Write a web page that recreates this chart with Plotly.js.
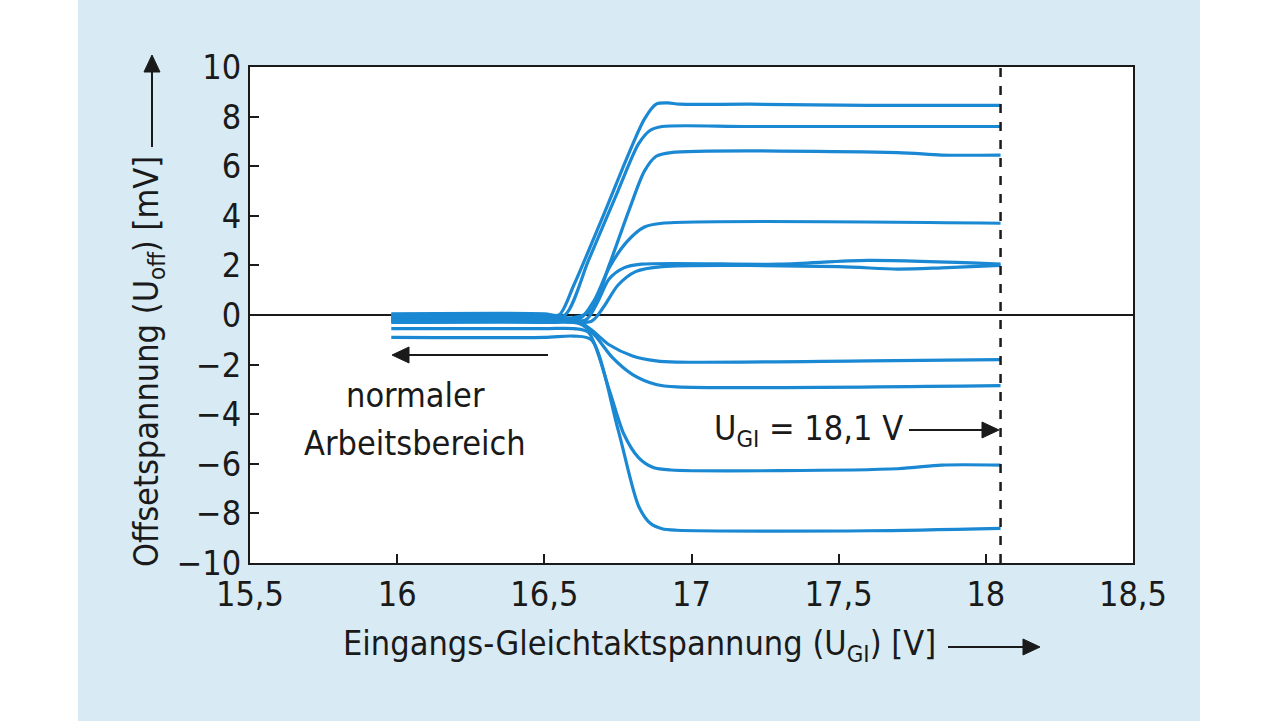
<!DOCTYPE html>
<html>
<head>
<meta charset="utf-8">
<script src="https://cdn.plot.ly/plotly-3.0.1.min.js"></script>
<style>
  html, body { margin: 0; padding: 0; background: #ffffff; }
  #chart { position: absolute; left: 78px; top: 0; width: 1122px; height: 721px; }
</style>
</head>
<body>
<div id="chart"></div>
<script>
// Categories / tick labels
const xTickVals = [15.5, 16, 16.5, 17, 17.5, 18, 18.5];
const xTickText = ['15,5', '16', '16,5', '17', '17,5', '18', '18,5'];
const yTickVals = [-10, -8, -6, -4, -2, 0, 2, 4, 6, 8, 10];
const yTickText = ['\u221210', '\u22128', '\u22126', '\u22124', '\u22122', '0', '2', '4', '6', '8', '10'];

// Series (input common-mode voltage [V] vs offset voltage [mV])
const xA = [15.98, 16.5, 16.55, 16.6, 16.7, 16.79, 16.84, 16.88, 16.92, 16.96, 17.2, 17.6, 18.05];
const yA = [0.05, 0.05, 0.0, 1.2, 4.0, 6.6, 7.9, 8.5, 8.55, 8.5, 8.5, 8.45, 8.45];
const xB = [15.98, 16.5, 16.57, 16.65, 16.75, 16.82, 16.86, 16.9, 17.2, 18.05];
const yB = [0.0, 0.0, 0.0, 2.2, 5.0, 6.9, 7.45, 7.6, 7.6, 7.6];
const xC = [15.98, 16.5, 16.6, 16.66, 16.72, 16.79, 16.84, 16.88, 16.93, 17.7, 17.85, 18.05];
const yC = [-0.05, -0.05, -0.1, 0.2, 2.0, 4.3, 5.8, 6.4, 6.55, 6.55, 6.45, 6.45];
const xD = [15.98, 16.5, 16.62, 16.67, 16.72, 16.78, 16.84, 16.9, 18.05];
const yD = [-0.1, -0.1, -0.15, 0.6, 1.9, 2.95, 3.55, 3.7, 3.7];
const xE = [15.98, 16.5, 16.64, 16.68, 16.72, 16.77, 16.83, 17.3, 17.6, 18.05];
const yE = [-0.15, -0.15, -0.2, 0.5, 1.45, 1.9, 2.05, 2.05, 2.2, 2.05];
const xF = [15.98, 16.5, 16.66, 16.7, 16.75, 16.81, 16.9, 17.5, 17.7, 17.85, 18.05];
const yF = [-0.2, -0.2, -0.25, 0.3, 1.2, 1.75, 1.95, 1.95, 1.85, 1.9, 2.0];
const xG = [15.98, 16.5, 16.62, 16.66, 16.72, 16.8, 16.88, 16.95, 17.6, 18.05];
const yG = [-0.25, -0.25, -0.3, -0.6, -1.2, -1.65, -1.85, -1.9, -1.85, -1.8];
const xH = [15.98, 16.5, 16.62, 16.67, 16.73, 16.8, 16.88, 16.95, 18.05];
const yH = [-0.3, -0.3, -0.35, -0.8, -1.7, -2.4, -2.8, -2.9, -2.85];
const xI = [15.98, 16.5, 16.6, 16.65, 16.72, 16.77, 16.82, 16.87, 16.93, 17.7, 17.85, 18.05];
const yI = [-0.55, -0.55, -0.55, -0.7, -3.0, -4.8, -5.75, -6.15, -6.25, -6.2, -6.05, -6.05];
const xJ = [15.98, 16.5, 16.6, 16.66, 16.75, 16.82, 16.86, 16.9, 16.95, 17.6, 18.05];
const yJ = [-0.9, -0.9, -0.85, -1.0, -4.6, -7.7, -8.4, -8.62, -8.68, -8.7, -8.6];

const limitV = 18.05;   // dashed line U_GI = 18,1 V
const yRange = [-10, 10];
const xRange = [15.5, 18.5];

const seriesX = [xA, xB, xC, xD, xE, xF, xG, xH, xI, xJ];
const seriesY = [yA, yB, yC, yD, yE, yF, yG, yH, yI, yJ];

const FONT = '"DejaVu Sans Condensed", "Liberation Sans Narrow", "Roboto", sans-serif';
const FS = 34;
const LINE_COLOR = '#1a88d2';
const INK = '#1a1a1a';

const traces = seriesX.map((xs, i) => ({
  type: 'scatter', mode: 'lines', x: xs, y: seriesY[i],
  line: { color: LINE_COLOR, width: 3.2, shape: 'spline', smoothing: 0.8 },
  hoverinfo: 'skip', showlegend: false
}));

// paper coordinate helpers (plot area: left 250, top 67, width 883, height 496 in page px)
const px = p => (p - 250) / 883;
const py = p => (563 - p) / 496;

const txt = (x, y, text, extra) => Object.assign({
  xref: 'paper', yref: 'paper', x: px(x), y: py(y), text: text, showarrow: false,
  xanchor: 'center', yanchor: 'middle', font: { family: FONT, size: FS, color: INK }
}, extra || {});

// arrow as shapes: shaft + filled triangular head (tip at x1,y1 in page px)
const arrowShapes = (x0, y0, x1, y1) => {
  const L = 17, W = 8;
  const dx = x1 - x0, dy = y1 - y0, len = Math.hypot(dx, dy);
  const ux = dx / len, uy = dy / len;
  const bx = x1 - ux * L, by = y1 - uy * L;
  const nx = -uy, ny = ux;
  const p = (x, y) => px(x).toFixed(5) + ',' + py(y).toFixed(5);
  return [
    { type: 'line', xref: 'paper', yref: 'paper', x0: px(x0), y0: py(y0), x1: px(bx), y1: py(by),
      line: { color: INK, width: 2 } },
    { type: 'path', xref: 'paper', yref: 'paper',
      path: 'M' + p(x1, y1) + ' L' + p(bx + nx * W, by + ny * W) + ' L' + p(bx - nx * W, by - ny * W) + ' Z',
      fillcolor: INK, line: { color: INK, width: 1 } }
  ];
};

const layout = {
  width: 1122, height: 721,
  margin: { l: 172, r: 67, t: 67, b: 158 },
  paper_bgcolor: '#d8eaf4',
  plot_bgcolor: '#ffffff',
  font: { family: FONT, size: FS, color: INK },
  showlegend: false,
  xaxis: {
    range: xRange, tickmode: 'array', tickvals: xTickVals, ticktext: xTickText,
    ticks: 'inside', ticklen: 9, tickwidth: 2, tickcolor: INK,
    showline: true, linecolor: INK, linewidth: 2, mirror: true,
    showgrid: false, zeroline: false, fixedrange: true,
    tickfont: { family: FONT, size: FS, color: INK }
  },
  yaxis: {
    range: yRange, tickmode: 'array', tickvals: yTickVals, ticktext: yTickText,
    ticks: 'inside', ticklen: 9, tickwidth: 2, tickcolor: INK,
    showline: true, linecolor: INK, linewidth: 2, mirror: true,
    showgrid: false, zeroline: true, zerolinecolor: INK, zerolinewidth: 1.5,
    fixedrange: true,
    tickfont: { family: FONT, size: FS, color: INK }
  },
  shapes: [
    { type: 'line', xref: 'x', yref: 'y', x0: limitV, x1: limitV, y0: yRange[0], y1: yRange[1],
      line: { color: INK, width: 2.5, dash: 'dash' } }
  ].concat(
    arrowShapes(152, 147, 152, 55),
    arrowShapes(948, 647, 1040, 647),
    arrowShapes(548, 355, 392, 355),
    arrowShapes(909, 430, 999, 430)
  ),
  annotations: [
    txt(148, 362, 'Offsetspannung (U<sub>off</sub>) [mV]', { textangle: -90 }),
    txt(639, 645, 'Eingangs-Gleichtaktspannung (U<sub>GI</sub>) [V]'),
    txt(415, 395, 'normaler'),
    txt(415, 443, 'Arbeitsbereich'),
    txt(905, 430, 'U<sub>GI</sub> = 18,1 V', { xanchor: 'right' })
  ]
};

Plotly.newPlot('chart', traces, layout, { displayModeBar: false, staticPlot: true });
</script>
</body>
</html>
